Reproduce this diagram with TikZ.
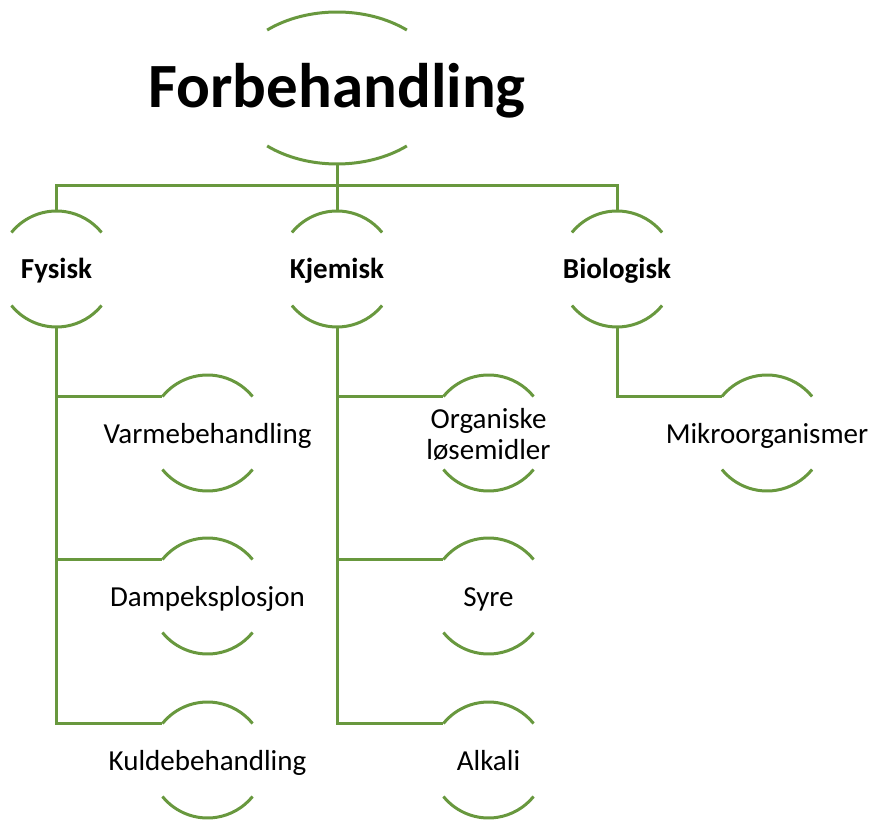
\documentclass[tikz,border=0pt]{standalone}
\usepackage{fontspec}
\setmainfont{Carlito}
\usetikzlibrary{shapes.geometric}
\definecolor{arcgreen}{RGB}{104,152,62}
\begin{document}
\begin{tikzpicture}[x=1pt,y=1pt,
  link/.style={draw=arcgreen, line width=3pt},
  ring/.style={circle, minimum size=116pt, inner sep=0pt, outer sep=0pt},
  oval/.style={ellipse, minimum width=216pt, minimum height=152pt, inner sep=0pt, outer sep=0pt},
  titletext/.style={font=\fontsize{63}{70}\selectfont\bfseries, inner sep=0pt, yshift=-3pt},
  lvltwo/.style={font=\fontsize{29}{31}\selectfont\bfseries, text height=24pt, text depth=4pt, inner sep=0pt},
  lvlthree/.style={font=\fontsize{29}{31}\selectfont, text height=24pt, text depth=4pt, inner sep=0pt},
  lvlthreeml/.style={font=\fontsize{29}{31}\selectfont, align=center, inner sep=0pt, yshift=-1pt}]
\useasboundingbox (0,0) rectangle (872,820);

% top node
\node[oval, label={[titletext]center:Forbehandling}] (top) at (337,732) {};
\draw[link] (top.center) ++(130.3:108 and 76) arc[start angle=130.3, end angle=49.7, x radius=108, y radius=76];
\draw[link] (top.center) ++(-130.3:108 and 76) arc[start angle=-130.3, end angle=-49.7, x radius=108, y radius=76];

% level two
\node[ring, label={[lvltwo]center:Fysisk}] (fys) at (56.5,551) {};
\node[ring, label={[lvltwo]center:Kjemisk}] (kje) at (337,551) {};
\node[ring, label={[lvltwo]center:Biologisk}] (bio) at (617,551) {};

% level three
\node[ring, label={[lvlthree]center:Varmebehandling}] (varme) at (207.5,387) {};
\node[ring, label={[lvlthree]center:Dampeksplosjon}] (dampe) at (207.5,224) {};
\node[ring, label={[lvlthree]center:Kuldebehandling}] (kulde) at (207.5,60) {};
\node[ring, label={[lvlthreeml]center:Organiske\\løsemidler}] (organ) at (488.5,387) {};
\node[ring, label={[lvlthree]center:Syre}] (syre) at (488.5,224) {};
\node[ring, label={[lvlthree]center:Alkali}] (alkali) at (488.5,60) {};
\node[ring, label={[lvlthree]center:Mikroorganismer}] (mikro) at (767,387) {};

\foreach \n in {fys,kje,bio,varme,dampe,kulde,organ,syre,alkali,mikro}{
  \draw[link] (\n.141) arc[start angle=141, end angle=39, radius=58];
  \draw[link] (\n.-141) arc[start angle=-141, end angle=-39, radius=58];
}

% connectors
\coordinate (bar) at (337,634);
\draw[link] (top.south) -- (kje.north);
\draw[link] (fys.north) |- (bar) -| (bio.north);

\draw[link] (fys.south) |- (varme.141);
\draw[link] (fys.south) |- (dampe.141);
\draw[link] (fys.south) |- (kulde.141);

\draw[link] (kje.south) |- (organ.141);
\draw[link] (kje.south) |- (syre.141);
\draw[link] (kje.south) |- (alkali.141);

\draw[link] (bio.south) |- (mikro.141);
\end{tikzpicture}
\end{document}
